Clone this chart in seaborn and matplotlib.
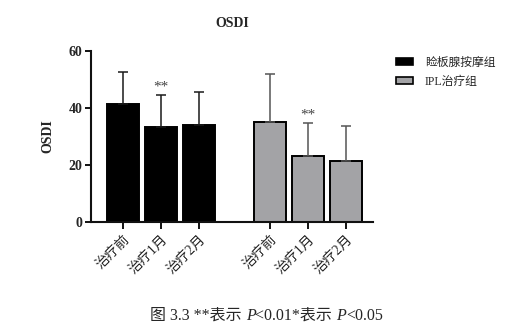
import numpy as np
import pandas as pd
import matplotlib
matplotlib.use("Agg")
import matplotlib.pyplot as plt
import seaborn as sns
from matplotlib.patches import Patch

# ---- data ----
groups = ["睑板腺按摩组", "IPL治疗组"]
times = ["治疗前", "治疗1月", "治疗2月"]
means_massage = [41.4, 33.2, 34.0]
sd_massage = [11.0, 11.3, 11.7]
means_ipl = [35.2, 23.2, 21.3]
sd_ipl = [16.5, 11.4, 12.3]
stars_massage = ["", "**", ""]
stars_ipl = ["", "**", ""]
yticks = [0, 20, 40, 60]
title = "OSDI"
ylabel = "OSDI"

sns.set_theme(style="ticks")
plt.rcParams["font.family"] = ["Liberation Serif", "Noto Sans CJK SC", "DejaVu Sans"]

group_gap = 3.83
rows = []
for g, (gname, m, s, st) in enumerate(zip(groups, [means_massage, means_ipl],
                                          [sd_massage, sd_ipl], [stars_massage, stars_ipl])):
    for i, t in enumerate(times):
        rows.append(dict(group=gname, time=t, mean=m[i], sd=s[i], star=st[i],
                         pos=i + g * group_gap))
df = pd.DataFrame(rows)

fig = plt.figure(figsize=(5.10, 3.34), dpi=100)
ax = fig.add_axes([0.178, 0.335, 0.553, 0.513])

bar_colors = {"睑板腺按摩组": "#000000", "IPL治疗组": "#a3a3a6"}
err_colors = {"睑板腺按摩组": "#1a1a1a", "IPL治疗组": "#555555"}

sns.barplot(data=df, x="pos", y="mean", hue="group", native_scale=True, dodge=False,
            palette=bar_colors, width=0.83, edgecolor="black", linewidth=1.4,
            legend=False, ax=ax, saturation=1)

for gname in groups:
    sub = df[df.group == gname]
    ax.errorbar(sub["pos"], sub["mean"], yerr=[np.zeros(len(sub)), sub["sd"]],
                fmt="none", ecolor=err_colors[gname], elinewidth=1.1, capsize=3.6,
                capthick=1.1, zorder=1)
    for _, r in sub.iterrows():
        if r["star"]:
            ax.text(r["pos"], r["mean"] + r["sd"] + 0.6, r["star"], ha="center",
                    va="bottom", fontsize=11, color="#444444")

ax.set_xlim(-0.83, 6.52)
ax.set_ylim(0, 60)
ax.set_yticks(yticks)
ax.set_yticklabels([str(v) for v in yticks], fontsize=10, fontweight="bold")
ax.set_xticks(df["pos"])
ax.set_xticklabels(df["time"], rotation=45, ha="right", rotation_mode="anchor",
                   fontsize=10, family=["Liberation Serif", "Noto Sans CJK SC"])
ax.set_xlabel("")
ax.set_ylabel(ylabel, fontsize=10, fontweight="bold", labelpad=10)
for side in ["top", "right"]:
    ax.spines[side].set_visible(False)
for side in ["left", "bottom"]:
    ax.spines[side].set_linewidth(1.5)
    ax.spines[side].set_color("#111111")
ax.tick_params(axis="both", width=1.4, length=4, color="#111111", pad=2)
ax.tick_params(axis="x", length=5, pad=3)

fig.text(0.455, 0.929, title, ha="center", va="center", fontsize=10, fontweight="bold")

handles = [Patch(facecolor=bar_colors[g], edgecolor="black", linewidth=1.2) for g in groups]
fig.legend(handles, groups, loc="upper left", bbox_to_anchor=(0.776, 0.83),
           frameon=False, fontsize=8.5, handlelength=1.45, handleheight=0.45,
           handletextpad=1.0, labelspacing=0.6, borderpad=0, borderaxespad=0)

# caption with italic P
pieces = [("图 3.3 **表示 ", "normal"), ("P", "italic"), ("<0.01*表示 ", "normal"),
          ("P", "italic"), ("<0.05", "normal")]
fig.canvas.draw()
renderer = fig.canvas.get_renderer()
x = 150 / 510
y = 1 - 316 / 334
for txt, style in pieces:
    t = fig.text(x, y, txt, ha="left", va="center", fontsize=11.5, style=style,
                 family=["Liberation Serif", "Noto Sans CJK SC"])
    bb = t.get_window_extent(renderer=renderer)
    x = fig.transFigure.inverted().transform((bb.x1, 0))[0]

fig.savefig("out.png", dpi=100)
